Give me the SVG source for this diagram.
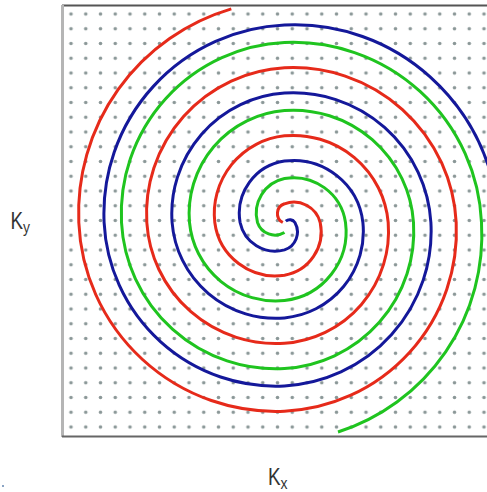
<svg xmlns="http://www.w3.org/2000/svg" width="487" height="492" viewBox="0 0 487 492">
<defs>
<pattern id="dots" patternUnits="userSpaceOnUse" x="63.625" y="6.625" width="14.75" height="14.75">
<circle cx="7.375" cy="7.375" r="1.8" fill="#8a9797"/>
</pattern>
<style>
.arm{fill:none;stroke-width:3;stroke-linecap:butt;stroke-linejoin:round}
.red{stroke:#e62a1a}
.blue{stroke:#14189a}
.green{stroke:#1fc41f}
.lbl{font-family:"Liberation Sans",Arial,sans-serif;fill:#333}
</style>
</defs>
<rect width="487" height="492" fill="#fff"/>
<g id="plot">
<rect x="64" y="7" width="423" height="428" fill="url(#dots)"/>
<line x1="62" y1="5.5" x2="487" y2="5.5" stroke="#555" stroke-width="2"/>
<line x1="62.5" y1="5" x2="62.5" y2="437" stroke="#b5b5b5" stroke-width="3"/>
<line x1="62" y1="436.5" x2="487" y2="436.5" stroke="#666" stroke-width="2"/>
</g>
<g id="connectors">
<path id="arm-blue" class="arm blue" d="M285.8,221.2 A6.2,6.2 0 0 1 294.9,222.5 A18.9,18.9 0 0 1 284.5,249.9 A35.9,35.9 0 0 1 240.1,222.5 A52.9,52.9 0 0 1 284.5,161.1 A69.9,69.9 0 0 1 362.9,222.5 A86.9,86.9 0 0 1 284.5,317.9 A103.9,103.9 0 0 1 172.1,222.5 A120.9,120.9 0 0 1 284.5,93.1 A137.9,137.9 0 0 1 430.9,222.5 A154.9,154.9 0 0 1 284.5,385.9 A171.9,171.9 0 0 1 104.1,222.5 A188.9,188.9 0 0 1 284.5,25.1 A201.7,201.7 0 0 1 430.1,76.9 A209.2,209.2 0 0 1 493.8,185.6"/>
<path id="arm-red" class="arm red" d="M282.8,222.5 A10.2,10.2 0 0 1 284.5,203.8 A27.2,27.2 0 0 1 320.2,222.5 A44.2,44.2 0 0 1 284.5,275.2 A61.2,61.2 0 0 1 214.8,222.5 A78.2,78.2 0 0 1 284.5,135.8 A95.2,95.2 0 0 1 388.2,222.5 A112.2,112.2 0 0 1 284.5,343.2 A129.2,129.2 0 0 1 146.8,222.5 A146.2,146.2 0 0 1 284.5,67.8 A163.2,163.2 0 0 1 456.2,222.5 A180.2,180.2 0 0 1 284.5,411.2 A197.2,197.2 0 0 1 78.8,222.5 A212.9,212.9 0 0 1 231.3,8.9"/>
<path id="arm-green" class="arm green" d="M284.5,232.5 A18.5,18.5 0 0 1 257.5,222.5 A35.5,35.5 0 0 1 284.5,178.5 A52.5,52.5 0 0 1 345.5,222.5 A69.5,69.5 0 0 1 284.5,300.5 A86.5,86.5 0 0 1 189.5,222.5 A103.5,103.5 0 0 1 284.5,110.5 A120.5,120.5 0 0 1 413.5,222.5 A137.5,137.5 0 0 1 284.5,368.5 A154.5,154.5 0 0 1 121.5,222.5 A171.5,171.5 0 0 1 284.5,42.5 A188.5,188.5 0 0 1 481.5,222.5 A207,207 0 0 1 338,432"/>
</g>
<g id="label-ky">
<text class="lbl" transform="translate(10.5,228.5) scale(0.82,1)" font-size="23">K<tspan font-size="17" dy="4">y</tspan></text>
</g>
<g id="label-kx">
<text class="lbl" transform="translate(268,485) scale(0.82,1)" font-size="23">K<tspan font-size="17" dy="4">x</tspan></text>
</g>
<rect x="2" y="485" width="2" height="2" fill="#8aa4c4"/>
</svg>
